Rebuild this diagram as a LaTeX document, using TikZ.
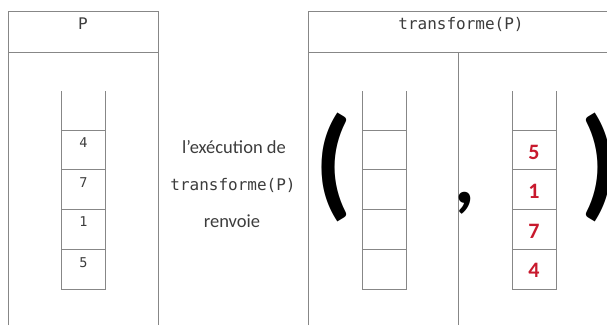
\documentclass[tikz,border=0pt]{standalone}
\usepackage{fontspec}
\setmainfont{Carlito}
\setmonofont{DejaVu Sans Mono}
\definecolor{linegray}{RGB}{135,135,135}
\definecolor{txtgray}{RGB}{60,60,60}
\definecolor{numred}{RGB}{200,25,45}
\tikzset{
  frame/.style={draw=linegray, line width=0.9pt},
  cellline/.style={draw=linegray, line width=0.9pt},
  hdr/.style={font=\fontsize{16}{18}\selectfont\ttfamily, text=txtgray, inner sep=0pt},
  lnum/.style={font=\fontsize{13.5}{16}\selectfont\ttfamily, text=txtgray, inner sep=0pt},
  rnum/.style={font=\fontsize{22}{24}\selectfont\bfseries, text=numred, inner sep=0pt},
  midtxt/.style={font=\fontsize{18.5}{20}\selectfont, text=txtgray, inner sep=0pt},
  midtt/.style={font=\fontsize{16}{18}\selectfont\ttfamily, text=txtgray, inner sep=0pt},
  big/.style={font=\fontsize{122}{122}\selectfont\bfseries, inner sep=0pt},
  bigcomma/.style={font=\fontsize{80}{80}\selectfont\bfseries, inner sep=0pt},
}
\newcommand{\stackdraw}[1]{%
  \draw[cellline] (#1,91) -- (#1,289) -- ++(44,0) -- ++(0,-198);
  \foreach \yy in {130,169,209,249} {\draw[cellline] (#1,\yy) -- ++(44,0);}
}
\begin{document}
\begin{tikzpicture}[x=1pt,y=-1pt]
\useasboundingbox (0,0) rectangle (607,325);
% left frame
\draw[frame] (8,325) -- (8,11) -- (158,11) -- (158,325);
\draw[frame] (8,52) -- (158,52);
\node[hdr] (hp) at (83,24) {P};
% right frame
\draw[frame] (308,325) -- (308,11) -- (607,11);
\draw[frame] (308,52) -- (607,52);
\draw[frame] (458,52) -- (458,325);
\node[hdr] (ht) at (461,24) {transforme(P)};
% stacks
\stackdraw{61}
\stackdraw{362}
\stackdraw{512}
% left numbers
\node[lnum] (l1) at (83.5,143) {4};
\node[lnum] (l2) at (83.5,183) {7};
\node[lnum] (l3) at (83.5,222) {1};
\node[lnum] (l4) at (83.5,263) {5};
% right numbers
\node[rnum] (r1) at (534,152) {5};
\node[rnum] (r2) at (534,191) {1};
\node[rnum] (r3) at (534,231) {7};
\node[rnum] (r4) at (534,270) {4};
% middle text
\node[midtxt] (m1) at (234,147) {l'exécution de};
\node[midtt] (m2) at (233,185) {transforme(P)};
\node[midtxt] (m3) at (232,221) {renvoie};
% parentheses and comma
\node[big] (pl) at (333,167) {(};
\node[bigcomma] (cm) at (465,203) {,};
\node[big] (pr) at (599,167) {)};
\end{tikzpicture}
\end{document}
